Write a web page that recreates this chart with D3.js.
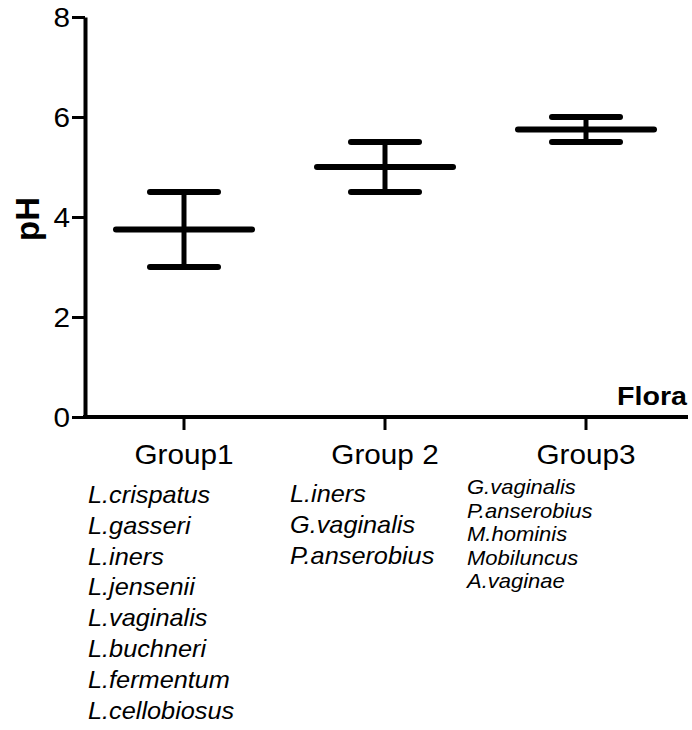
<!DOCTYPE html>
<html>
<head>
<meta charset="utf-8">
<script src="https://cdn.jsdelivr.net/npm/d3@7"></script>
<style>
  body { margin: 0; background: #fff; }
  svg text { font-family: "Liberation Sans", Arial, sans-serif; fill: #000; }
</style>
</head>
<body>
<svg id="chart" width="692" height="730"></svg>
<script>
// groups and pH summary (mean with range)
const groups = ['Group1', 'Group 2', 'Group3'];
const means = [3.75, 5.0, 5.75];
const lows = [3.0, 4.5, 5.5];
const highs = [4.5, 5.5, 6.0];
const yTicks = [0, 2, 4, 6, 8];

// flora under each group
const flora1 = ['L.crispatus', 'L.gasseri', 'L.iners', 'L.jensenii', 'L.vaginalis', 'L.buchneri', 'L.fermentum', 'L.cellobiosus'];
const flora2 = ['L.iners', 'G.vaginalis', 'P.anserobius'];
const flora3 = ['G.vaginalis', 'P.anserobius', 'M.hominis', 'Mobiluncus', 'A.vaginae'];

const stretch = 1.1; // the original figure is a little wider than tall

let svg = d3.select('#chart');

let y = d3.scaleLinear().domain([0, 8]).range([417, 17]);
let x = d3.scalePoint().domain(groups).range([184, 586]);

// y axis
let yAxis = svg.append('g')
  .attr('transform', 'translate(85,0)')
  .call(d3.axisLeft(y).tickValues(yTicks).tickSize(13).tickSizeOuter(0).tickFormat(d3.format('d')));
yAxis.select('.domain').attr('stroke-width', 4).attr('stroke', '#000');
yAxis.selectAll('.tick line').attr('stroke-width', 3).attr('stroke', '#000');
yAxis.selectAll('.tick text')
  .attr('x', 0).attr('dy', '0.36em')
  .attr('transform', 'translate(-15,0) scale(' + stretch + ',1)')
  .style('font-size', '27px')
  .attr('fill', '#000');

// x axis
let xAxis = svg.append('g')
  .attr('transform', 'translate(0,' + y(0) + ')');
xAxis.append('line')
  .attr('x1', 83).attr('x2', 688)
  .attr('stroke', '#000').attr('stroke-width', 4);
xAxis.selectAll('.xtick')
  .data(groups)
  .enter()
  .append('line')
  .attr('class', 'xtick')
  .attr('x1', (d) => x(d)).attr('x2', (d) => x(d))
  .attr('y1', 0).attr('y2', 13)
  .attr('stroke', '#000').attr('stroke-width', 3);

// mean lines and error bars
const meanHalf = 68, capHalf = 34;
let bars = svg.append('g')
  .selectAll('g')
  .data(groups)
  .enter()
  .append('g');

bars.append('line')
  .attr('x1', (d) => x(d)).attr('x2', (d) => x(d))
  .attr('y1', (d, i) => y(highs[i])).attr('y2', (d, i) => y(lows[i]))
  .attr('stroke', '#000').attr('stroke-width', 5);

bars.append('line')
  .attr('x1', (d) => x(d) - meanHalf).attr('x2', (d) => x(d) + meanHalf)
  .attr('y1', (d, i) => y(means[i])).attr('y2', (d, i) => y(means[i]))
  .attr('stroke', '#000').attr('stroke-width', 6).attr('stroke-linecap', 'round');

[highs, lows].forEach(function (vals) {
  bars.append('line')
    .attr('x1', (d) => x(d) - capHalf).attr('x2', (d) => x(d) + capHalf)
    .attr('y1', (d, i) => y(vals[i])).attr('y2', (d, i) => y(vals[i]))
    .attr('stroke', '#000').attr('stroke-width', 6).attr('stroke-linecap', 'round');
});

// stretched text helper
function label(px, py, txt, size, opts) {
  opts = opts || {};
  return svg.append('text')
    .attr('transform', 'translate(' + px + ',' + py + ')' + (opts.rotate ? ' rotate(-90)' : '') + ' scale(' + stretch + ',1)')
    .attr('text-anchor', opts.anchor || 'start')
    .style('font-size', size + 'px')
    .style('font-weight', opts.bold ? 'bold' : 'normal')
    .style('font-style', opts.italic ? 'italic' : 'normal')
    .text(txt);
}

// axis titles
svg.append('text')
  .attr('transform', 'translate(39,219) rotate(-90)')
  .attr('text-anchor', 'middle')
  .style('font-size', '33px')
  .style('font-weight', 'bold')
  .text('pH');
label(687, 405, 'Flora', 26, { bold: true, anchor: 'end' });

// group labels
groups.forEach((g) => label(x(g), 464, g, 27, { anchor: 'middle' }));

// flora lists
flora1.forEach((s, i) => label(88, 503 + i * 30.8, s, 23, { italic: true }));
flora2.forEach((s, i) => label(290, 502 + i * 31, s, 23, { italic: true }));
flora3.forEach((s, i) => label(467, 494 + i * 23.5, s, 20, { italic: true }));
</script>
</body>
</html>
